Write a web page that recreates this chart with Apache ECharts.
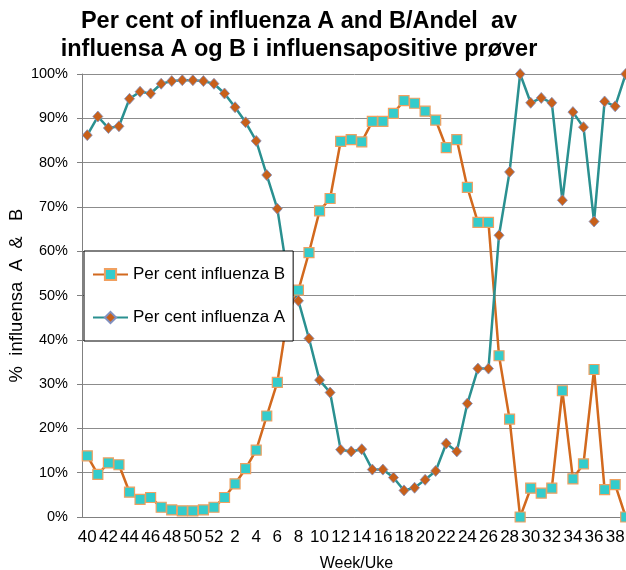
<!DOCTYPE html>
<html>
<head>
<meta charset="utf-8">
<script src="https://cdn.jsdelivr.net/npm/echarts@6/dist/echarts.min.js"></script>
<style>
html,body{margin:0;padding:0;background:#fff;}
#chart{width:626px;height:570px;}
</style>
</head>
<body>
<div id="chart"></div>
<script>
// uker 40-52 og 1-39
var weeks = ['40','41','42','43','44','45','46','47','48','49','50','51','52',
    '1','2','3','4','5','6','7','8','9','10','11','12','13','14','15','16','17','18','19','20',
    '21','22','23','24','25','26','27','28','29','30','31','32','33','34','35','36','37','38','39'];
var influenzaB = [13.8, 9.6, 12.2, 11.8, 5.6, 4.0, 4.4, 2.2, 1.6, 1.4, 1.4, 1.6, 2.2,
    4.4, 7.5, 10.9, 15.1, 22.8, 30.4, 45.8, 51.2, 59.7, 69.1, 71.9, 84.8, 85.2, 84.7, 89.3, 89.3, 91.1, 94.0, 93.4, 91.6,
    89.6, 83.4, 85.2, 74.4, 66.5, 66.5, 36.4, 22.1, 0, 6.5, 5.4, 6.5, 28.5, 8.6, 12.0, 33.3, 6.2, 7.3, 0];
var influenzaA = [86.2, 90.4, 87.8, 88.2, 94.4, 96.0, 95.6, 97.8, 98.4, 98.6, 98.6, 98.4, 97.8,
    95.6, 92.5, 89.1, 84.9, 77.2, 69.6, 54.2, 48.8, 40.3, 30.9, 28.1, 15.2, 14.8, 15.3, 10.7, 10.7, 8.9, 6.0, 6.6, 8.4,
    10.4, 16.6, 14.8, 25.6, 33.5, 33.5, 63.6, 77.9, 100, 93.5, 94.6, 93.5, 71.5, 91.4, 88.0, 66.7, 93.8, 92.7, 100];

var font = 'Liberation Sans, Arial, sans-serif';
var chart = echarts.init(document.getElementById('chart'));
var option = {
    animation: false,
    textStyle: { fontFamily: font },
    title: {
        text: 'Per cent of influenza A and B/Andel  av\ninfluensa A og B i influensapositive prøver',
        left: 294,
        textAlign: 'center',
        top: 3,
        textStyle: { fontSize: 23.5, fontWeight: 'bold', color: '#000', lineHeight: 28, fontFamily: font }
    },
    legend: {
        orient: 'vertical',
        left: 84,
        top: 251,
        padding: [15, 8, 15, 8],
        itemGap: 26,
        itemWidth: 35,
        itemHeight: 14,
        backgroundColor: '#fff',
        borderColor: '#000',
        borderWidth: 1,
        textStyle: { fontSize: 17, color: '#000' },
        data: ['Per cent influenza B', 'Per cent influenza A']
    },
    grid: {
        left: 82,
        right: -5,
        top: 74,
        bottom: 53,
        containLabel: false,
        outerBoundsMode: 'none'
    },
    xAxis: {
        type: 'category',
        data: weeks,
        boundaryGap: true,
        name: 'Week/Uke',
        nameLocation: 'middle',
        nameGap: 39,
        nameTextStyle: { fontSize: 16, color: '#000' },
        axisLine: { lineStyle: { color: '#808080', width: 1 } },
        axisTick: { interval: 0, alignWithLabel: false, length: 5, lineStyle: { color: '#808080' } },
        axisLabel: { interval: 1, margin: 12, fontSize: 17, color: '#000' }
    },
    yAxis: {
        type: 'value',
        min: 0,
        max: 100,
        interval: 10,
        name: '%  influensa  A  &   B',
        nameLocation: 'middle',
        nameGap: 56,
        nameMoveOverlap: false,
        nameTextStyle: { fontSize: 18.5, color: '#000' },
        axisLine: { show: true, lineStyle: { color: '#808080', width: 1 } },
        axisTick: { show: true, length: 5, lineStyle: { color: '#808080' } },
        axisLabel: { formatter: '{value}%', margin: 14, fontSize: 14.5, color: '#000' },
        splitLine: { lineStyle: { color: '#8c8c8c', width: 1 } }
    },
    series: [
        {
            name: 'Per cent influenza B',
            type: 'line',
            data: influenzaB,
            symbol: 'rect',
            symbolSize: 10,
            showAllSymbol: true,
            lineStyle: { color: '#d2691e', width: 2.5 },
            itemStyle: { color: '#33cccc', borderColor: '#f0a060', borderWidth: 1.2 }
        },
        {
            name: 'Per cent influenza A',
            type: 'line',
            data: influenzaA,
            symbol: 'diamond',
            symbolSize: [10, 11],
            showAllSymbol: true,
            lineStyle: { color: '#2a9090', width: 2.5 },
            itemStyle: { color: '#c8601a', borderColor: '#8090c0', borderWidth: 0.8 }
        }
    ]
};
chart.setOption(option);
</script>
</body>
</html>
